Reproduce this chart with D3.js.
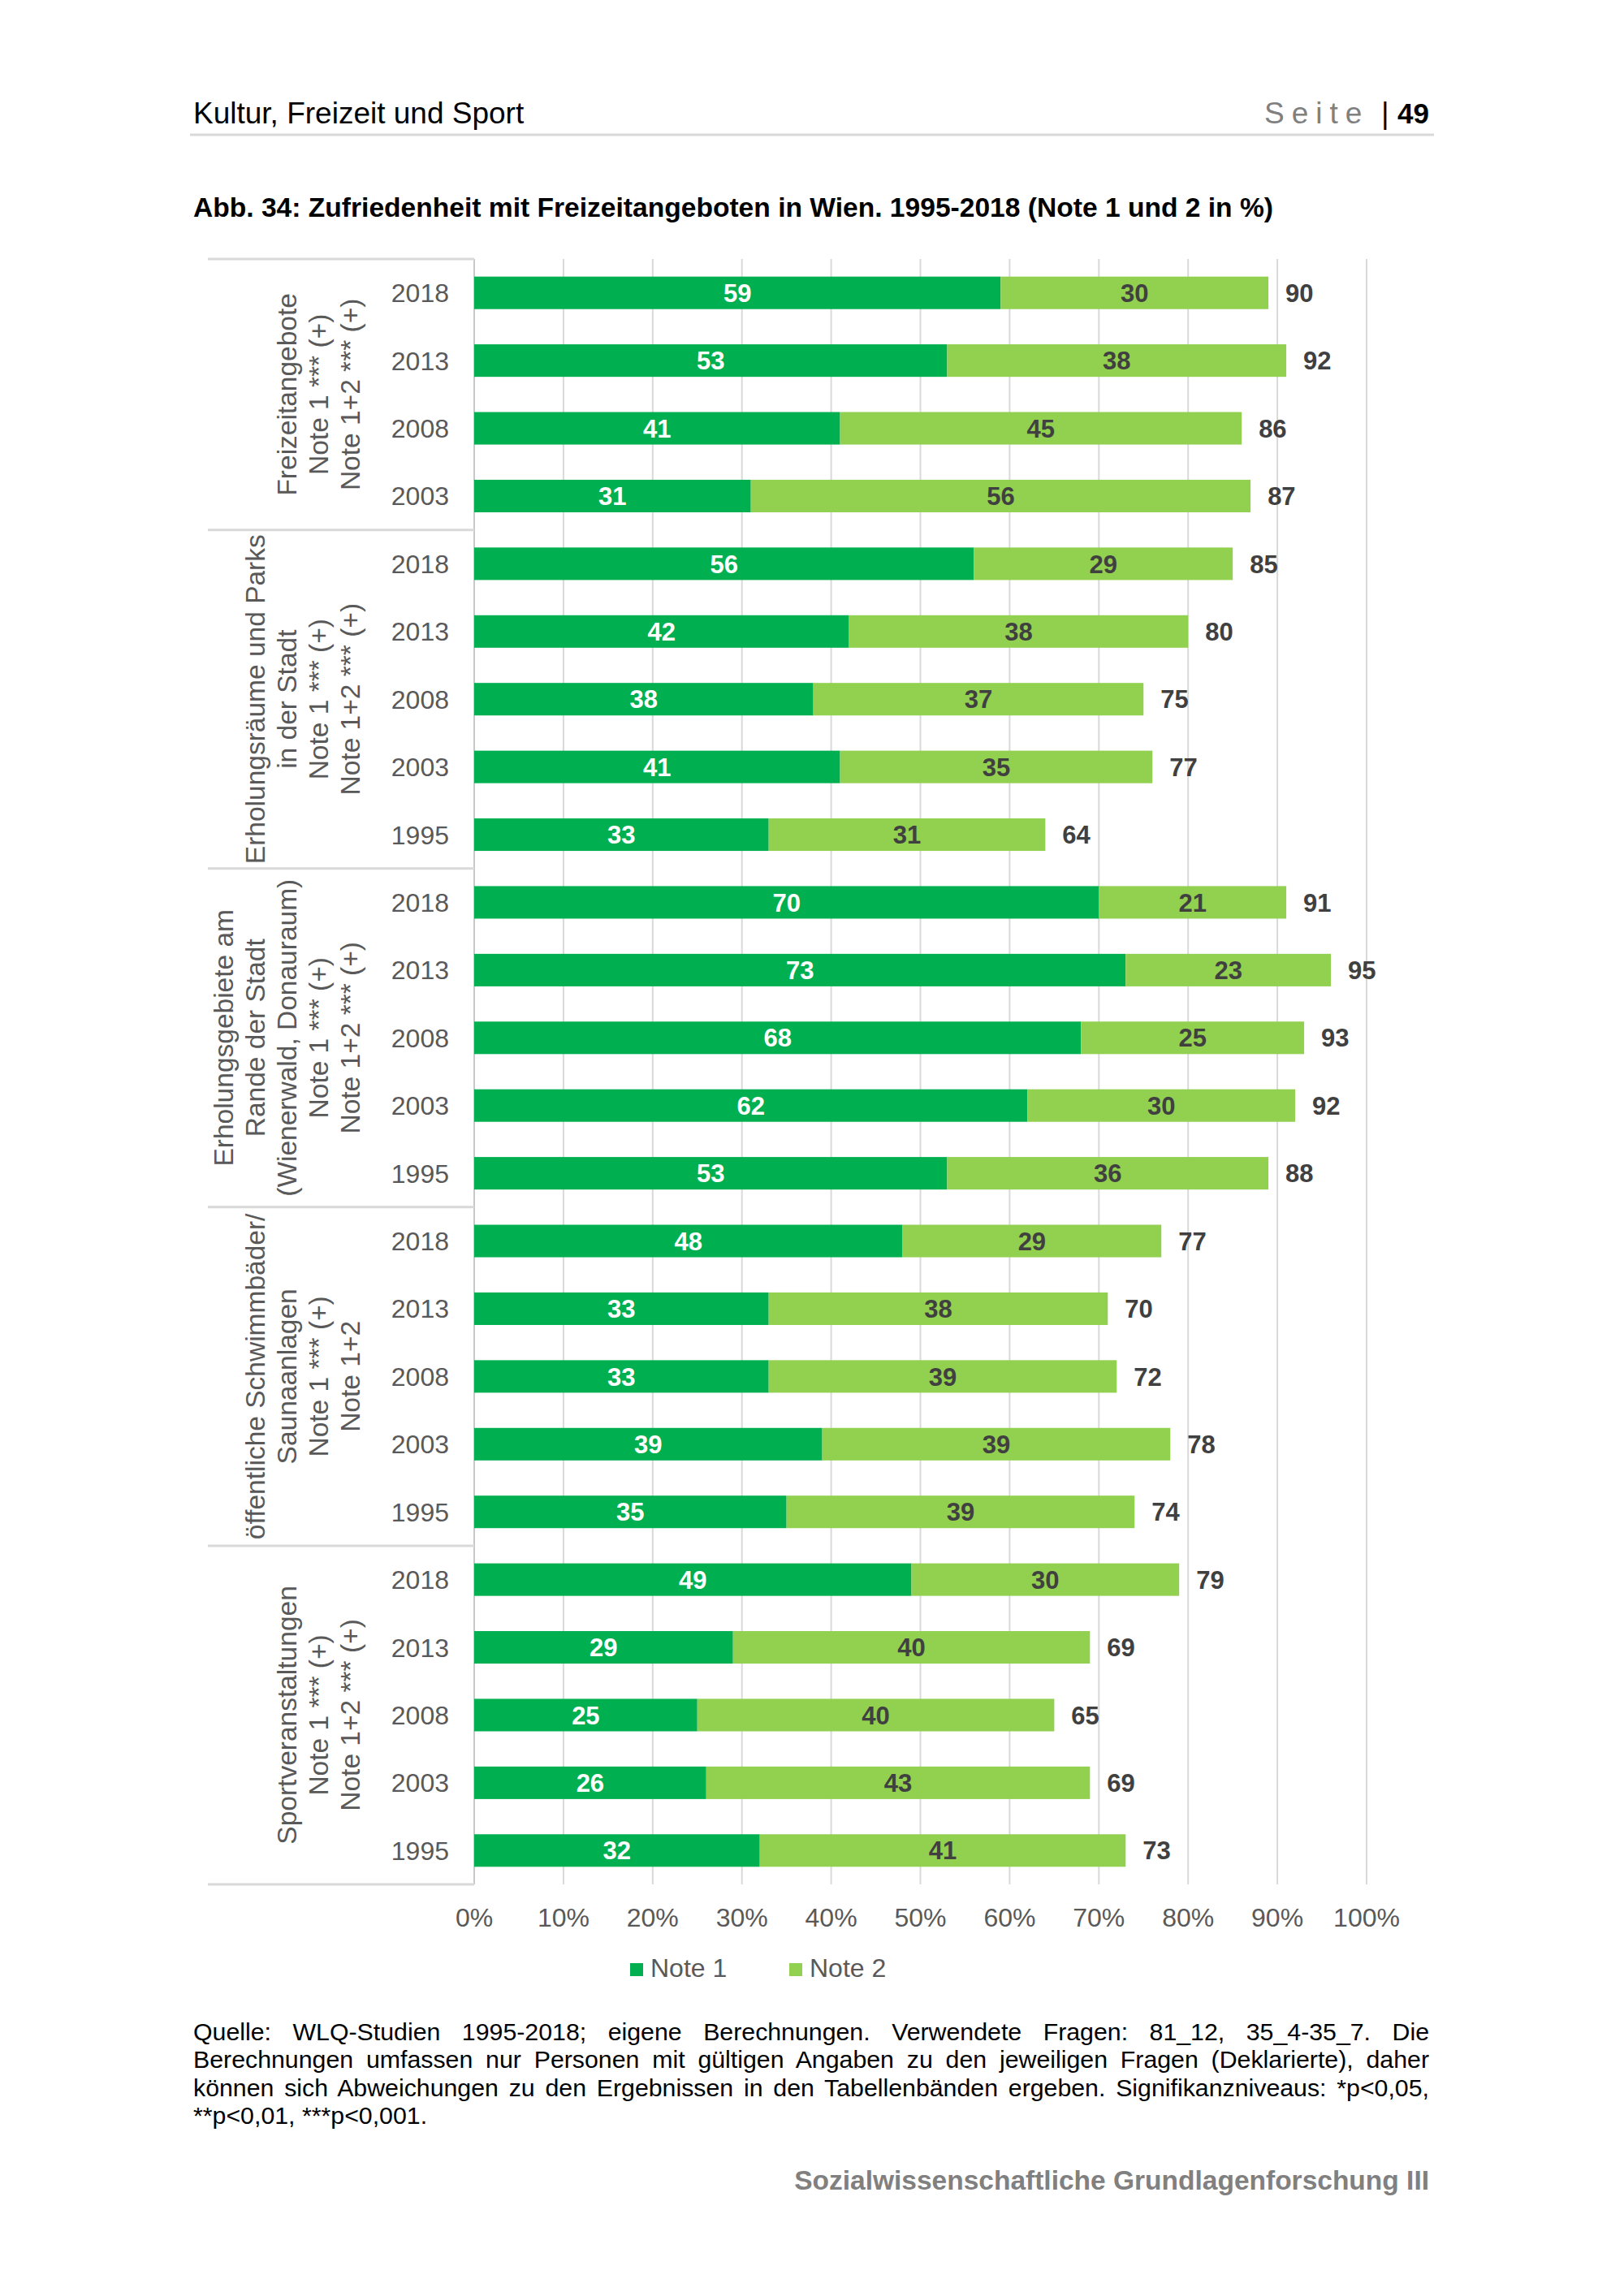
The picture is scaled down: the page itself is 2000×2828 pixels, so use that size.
<!DOCTYPE html>
<html>
<head>
<meta charset="UTF-8">
<title>Abb. 34 - Zufriedenheit mit Freizeitangeboten</title>
<script src="https://d3js.org/d3.v7.min.js"></script>
<style>
    body { margin: 0; background: #fff; }
    svg { display: block; font-family: "Liberation Sans", Arial, Helvetica, sans-serif; }
</style>
</head>
<body>
<div id="chart"></div>
<script>
    // Daten
    var groupLabels = [
        ["Freizeitangebote", "Note 1 *** (+)", "Note 1+2 *** (+)"],
        ["Erholungsräume und Parks", "in der Stadt", "Note 1 *** (+)", "Note 1+2 *** (+)"],
        ["Erholungsgebiete am", "Rande der Stadt", "(Wienerwald, Donauraum)", "Note 1 *** (+)", "Note 1+2 *** (+)"],
        ["öffentliche Schwimmbäder/", "Saunaanlagen", "Note 1 *** (+)", "Note 1+2"],
        ["Sportveranstaltungen", "Note 1 *** (+)", "Note 1+2 *** (+)"]
    ];
    var rowGroup = [0, 0, 0, 0, 1, 1, 1, 1, 1, 2, 2, 2, 2, 2, 3, 3, 3, 3, 3, 4, 4, 4, 4, 4];
    var rowYears = ["2018", "2013", "2008", "2003",
        "2018", "2013", "2008", "2003", "1995",
        "2018", "2013", "2008", "2003", "1995",
        "2018", "2013", "2008", "2003", "1995",
        "2018", "2013", "2008", "2003", "1995"];
    var note1 = [59, 53, 41, 31, 56, 42, 38, 41, 33, 70, 73, 68, 62, 53, 48, 33, 33, 39, 35, 49, 29, 25, 26, 32];
    var note2 = [30, 38, 45, 56, 29, 38, 37, 35, 31, 21, 23, 25, 30, 36, 29, 38, 39, 39, 39, 30, 40, 40, 43, 41];
    var total = [90, 92, 86, 87, 85, 80, 75, 77, 64, 91, 95, 93, 92, 88, 77, 70, 72, 78, 74, 79, 69, 65, 69, 73];
    var xTicks = [0, 10, 20, 30, 40, 50, 60, 70, 80, 90, 100];
    var seriesNames = ["Note 1", "Note 2"];
    var seriesColors = ["#00B050", "#92D050"];

    var footnoteLines = [
        "Quelle: WLQ-Studien 1995-2018; eigene Berechnungen. Verwendete Fragen: 81_12, 35_4-35_7. Die",
        "Berechnungen umfassen nur Personen mit gültigen Angaben zu den jeweiligen Fragen (Deklarierte), daher",
        "können sich Abweichungen zu den Ergebnissen in den Tabellenbänden ergeben. Signifikanzniveaus: *p<0,05,",
        "**p<0,01, ***p<0,001."
    ];

    var W = 2000, H = 2828;
    var svg = d3.select("#chart").append("svg")
        .attr("width", W)
        .attr("height", H);

    svg.append("rect").attr("width", W).attr("height", H).attr("fill", "#fff");

    // Kopfzeile
    svg.append("text")
        .attr("x", 238).attr("y", 152)
        .style("font-size", "37px").attr("fill", "#000")
        .text("Kultur, Freizeit und Sport");
    svg.append("text")
        .attr("x", 1557).attr("y", 152)
        .style("font-size", "37px").style("letter-spacing", "9px").attr("fill", "#808080")
        .text("Seite");
    svg.append("text")
        .attr("x", 1701).attr("y", 152)
        .style("font-size", "37px").attr("fill", "#000")
        .text("|");
    svg.append("text")
        .attr("x", 1760).attr("y", 152)
        .attr("text-anchor", "end")
        .style("font-size", "35px").style("font-weight", "bold").attr("fill", "#000")
        .text("49");
    svg.append("line")
        .attr("x1", 234).attr("x2", 1766).attr("y1", 166).attr("y2", 166)
        .attr("stroke", "#D9D9D9").attr("stroke-width", 3);

    // Titel
    svg.append("text")
        .attr("x", 238).attr("y", 267)
        .style("font-size", "33.6px").style("font-weight", "bold").attr("fill", "#000")
        .text("Abb. 34: Zufriedenheit mit Freizeitangeboten in Wien. 1995-2018 (Note 1 und 2 in %)");

    // Skalen
    var rows = d3.range(rowYears.length);
    var x = d3.scaleLinear().domain([0, 100]).range([584, 1683]);
    var yRow = d3.scaleBand().domain(rows).range([319, 2321]).padding(0);
    var yBar = d3.scaleBand().domain(rows).range([319, 2321]).paddingInner(0.52).paddingOuter(0.26);

    // Gitterlinien
    svg.append("g").selectAll("line")
        .data(xTicks)
        .enter().append("line")
        .attr("x1", function (d) { return x(d); })
        .attr("x2", function (d) { return x(d); })
        .attr("y1", 319).attr("y2", 2321)
        .attr("stroke", function (d) { return d === 0 ? "#C8C8C8" : "#D9D9D9"; })
        .attr("stroke-width", 2);

    // Gruppen-Trennlinien
    var groupIdx = d3.range(groupLabels.length);
    var groupFirst = groupIdx.map(function (g) { return rowGroup.indexOf(g); });
    var groupLast = groupIdx.map(function (g) { return rowGroup.lastIndexOf(g); });
    var sepY = groupFirst.map(function (i) { return yRow(i); });
    sepY.push(yRow(rows.length - 1) + yRow.bandwidth());
    svg.append("g").selectAll("line")
        .data(sepY)
        .enter().append("line")
        .attr("x1", 256).attr("x2", x(0))
        .attr("y1", function (d) { return d; })
        .attr("y2", function (d) { return d; })
        .attr("stroke", "#D9D9D9").attr("stroke-width", 3);

    // Gruppenbeschriftungen (gedreht)
    var lh = 39;
    groupIdx.forEach(function (g) {
        var yc = (yRow(groupFirst[g]) + yRow(groupLast[g]) + yRow.bandwidth()) / 2;
        var lines = groupLabels[g];
        var t = svg.append("text")
            .attr("transform", "translate(443," + yc + ") rotate(-90)")
            .attr("text-anchor", "middle")
            .style("font-size", "33.5px")
            .attr("fill", "#595959");
        lines.forEach(function (s, k) {
            t.append("tspan")
                .attr("x", 0)
                .attr("y", -(lines.length - 1 - k) * lh)
                .text(s);
        });
    });

    // Jahresbeschriftungen
    svg.append("g").selectAll("text")
        .data(rows)
        .enter().append("text")
        .attr("x", 553)
        .attr("y", function (i) { return yRow(i) + yRow.bandwidth() / 2; })
        .attr("dy", "0.36em")
        .attr("text-anchor", "end")
        .style("font-size", "32px")
        .attr("fill", "#595959")
        .text(function (i) { return rowYears[i]; });

    // Balken
    var stackData = rows.map(function (i) { return { row: i, n1: note1[i], n2: note2[i] }; });
    var stack = d3.stack().keys(["n1", "n2"]);
    var layers = stack(stackData);

    svg.append("g").selectAll("g")
        .data(layers)
        .enter().append("g")
        .attr("fill", function (d, k) { return seriesColors[k]; })
        .selectAll("rect")
        .data(function (d) { return d; })
        .enter().append("rect")
        .attr("x", function (d) { return x(d[0]); })
        .attr("width", function (d) { return x(d[1]) - x(d[0]); })
        .attr("y", function (d) { return yBar(d.data.row); })
        .attr("height", yBar.bandwidth());

    // Werte in den Balken
    svg.append("g").selectAll("g")
        .data(layers)
        .enter().append("g")
        .attr("fill", function (d, k) { return k === 0 ? "#FFFFFF" : "#404040"; })
        .selectAll("text")
        .data(function (d) { return d; })
        .enter().append("text")
        .attr("x", function (d) { return (x(d[0]) + x(d[1])) / 2; })
        .attr("y", function (d) { return yBar(d.data.row) + yBar.bandwidth() / 2; })
        .attr("dy", "0.36em")
        .attr("text-anchor", "middle")
        .style("font-size", "31px").style("font-weight", "bold")
        .text(function (d) { return d[1] - d[0]; });

    // Summen rechts
    svg.append("g").selectAll("text")
        .data(rows)
        .enter().append("text")
        .attr("x", function (i) { return x(note1[i] + note2[i]) + 21; })
        .attr("y", function (i) { return yBar(i) + yBar.bandwidth() / 2; })
        .attr("dy", "0.36em")
        .style("font-size", "31px").style("font-weight", "bold")
        .attr("fill", "#404040")
        .text(function (i) { return total[i]; });

    // x-Achse
    svg.append("g").selectAll("text")
        .data(xTicks)
        .enter().append("text")
        .attr("x", function (d) { return x(d); })
        .attr("y", 2373)
        .attr("text-anchor", "middle")
        .style("font-size", "32px")
        .attr("fill", "#595959")
        .text(function (d) { return d + "%"; });

    // Legende
    var legX = [776, 972];
    var leg = svg.append("g").selectAll("g")
        .data(seriesNames)
        .enter().append("g")
        .attr("transform", function (d, k) { return "translate(" + legX[k] + ",0)"; });
    leg.append("rect")
        .attr("x", 0).attr("y", 2418)
        .attr("width", 16).attr("height", 16)
        .attr("fill", function (d, k) { return seriesColors[k]; });
    leg.append("text")
        .attr("x", 25).attr("y", 2435)
        .style("font-size", "32px")
        .attr("fill", "#595959")
        .text(function (d) { return d; });

    // Fussnote (Blocksatz)
    var fnW = 1760 - 238;
    footnoteLines.forEach(function (s, k) {
        var t = svg.append("text")
            .attr("x", 238).attr("y", 2513 + k * 34.3)
            .style("font-size", "30.3px")
            .attr("fill", "#000")
            .text(s);
        if (k < footnoteLines.length - 1) {
            var len = t.node().getComputedTextLength();
            var spaces = s.split(" ").length - 1;
            t.style("word-spacing", ((fnW - len) / spaces) + "px");
        }
    });

    // Fusszeile
    svg.append("text")
        .attr("x", 1760).attr("y", 2697)
        .attr("text-anchor", "end")
        .style("font-size", "33.5px").style("font-weight", "bold")
        .attr("fill", "#808080")
        .text("Sozialwissenschaftliche Grundlagenforschung III");
</script>
</body>
</html>
